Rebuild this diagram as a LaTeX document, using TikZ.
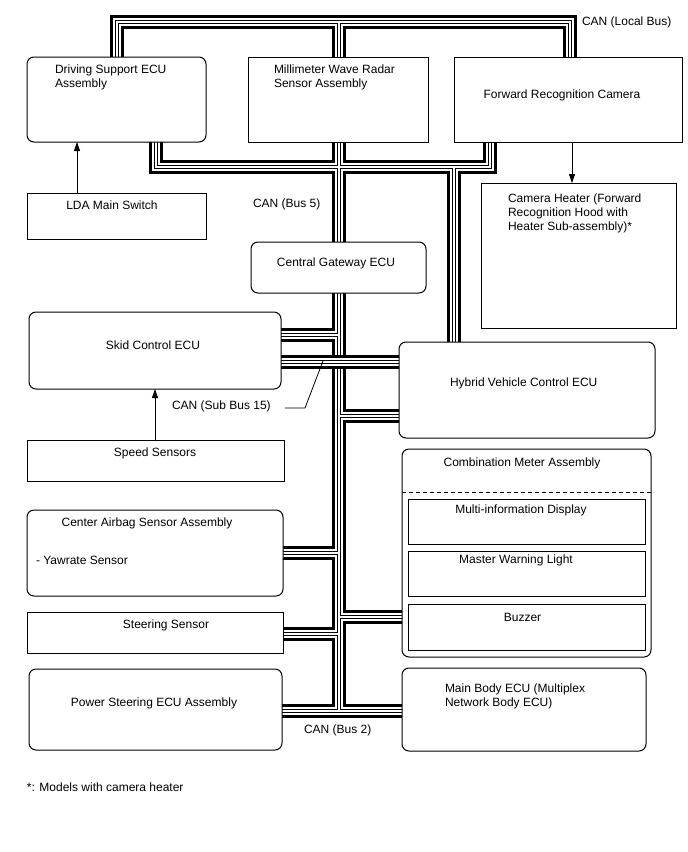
\documentclass[tikz,border=0pt]{standalone}
\usepackage{fontspec}
\setmainfont{Liberation Sans}
\usetikzlibrary{arrows.meta}
\pgfdeclarelayer{back}
\pgfdeclarelayer{bg}
\pgfsetlayers{back,bg,main}
\begin{document}
\begin{tikzpicture}[x=1pt,y=-1pt,
  every node/.style={inner sep=0pt, outer sep=0pt},
  txt/.style={font=\fontsize{12}{14}\selectfont},
  rbox/.style={draw, line width=1pt, fill=white, rounded corners=7pt, anchor=north west},
  sbox/.style={draw, line width=1pt, fill=white, anchor=north west},
  bus/.style={line width=14pt, draw=black,
    postaction={draw=white, line width=8pt},
    postaction={draw=black, line width=4pt},
    postaction={draw=white, line width=2pt}},
  arr/.style={line width=0.8pt, -{Triangle[length=9pt,width=6pt]}},
  thinline/.style={line width=0.8pt},
]
\useasboundingbox (0,0) rectangle (688,852);
\begin{pgfonlayer}{back}
\fill[white] (0,0) rectangle (688,852);
\end{pgfonlayer}

% boxes
\node[rbox, minimum width=179pt, minimum height=85pt] (ds) at (27,57) {};
\node[sbox, minimum width=180pt, minimum height=85pt] (mmw) at (248,57) {};
\node[sbox, minimum width=228pt, minimum height=85pt] (frc) at (454,57) {};
\node[sbox, minimum width=179pt, minimum height=46pt] (lda) at (27,193) {};
\node[sbox, minimum width=195pt, minimum height=145pt] (ch) at (481,183) {};
\node[rbox, minimum width=175pt, minimum height=51pt] (cgw) at (251,242) {};
\node[rbox, minimum width=252pt, minimum height=77pt] (skid) at (29,312) {};
\node[sbox, minimum width=257pt, minimum height=41pt] (speed) at (27,440) {};
\node[rbox, minimum width=256pt, minimum height=96pt] (hv) at (399,342) {};
\node[rbox, minimum width=256pt, minimum height=86pt] (air) at (27,510) {};
\node[sbox, minimum width=256pt, minimum height=41pt] (steer) at (27,612) {};
\node[rbox, minimum width=253pt, minimum height=81pt] (ps) at (29,669) {};
\node[rbox, minimum width=249pt, minimum height=208pt] (combo) at (402,449) {};
\node[sbox, minimum width=237pt, minimum height=45pt] (mid) at (408,499) {};
\node[sbox, minimum width=237pt, minimum height=45pt] (mwl) at (408,551) {};
\node[sbox, minimum width=237pt, minimum height=46pt] (buz) at (408,604) {};
\node[rbox, minimum width=244pt, minimum height=83pt] (mb) at (402,668) {};

% bus junction coordinates
\coordinate (lbL) at (116.5,22);
\coordinate (lbM) at (339,22);
\coordinate (lbR) at (570,22);
\coordinate (b5L) at (156,167);
\coordinate (b5R) at (490,167);
\coordinate (b5H) at (454,167);
\coordinate (tTop) at (339,142);
\coordinate (tBot) at (339,711);
\coordinate (jSkid) at (339,335);
\coordinate (j15) at (339,362);
\coordinate (jHv) at (339,416);
\coordinate (jAir) at (339,553);
\coordinate (jCombo) at (339,617);
\coordinate (jSteer) at (339,634);

\begin{pgfonlayer}{bg}
% CAN (Local Bus)
\draw[bus] (ds.north -| lbL) -- (lbL) -- (lbR) -- (lbR |- frc.north)
           (lbM) -- (lbM |- mmw.north);
% CAN (Bus 5) and trunk
\draw[bus] (b5L |- ds.south) -- (b5L) -- (b5R) -- (b5R |- frc.south)
           (b5H) -- (b5H |- hv.north)
           (tTop) -- (tBot)
           (ps.east |- tBot) -- (mb.west |- tBot)
           (skid.east |- jSkid) -- (jSkid)
           (jHv) -- (hv.west |- jHv)
           (air.east |- jAir) -- (jAir)
           (jCombo) -- (combo.west |- jCombo)
           (steer.east |- jSteer) -- (jSteer);
% CAN (Sub Bus 15)
\draw[bus] (skid.east |- j15) -- (hv.west |- j15);
\end{pgfonlayer}

% redraw boxes on top (already on main layer)
\coordinate (dashY) at (0,492);
\draw[line width=1pt, dash pattern=on 4pt off 3pt] (combo.west |- dashY) -- (combo.east |- dashY);

% arrows
\coordinate (aL) at (77,0);
\coordinate (aS) at (155,0);
\coordinate (aF) at (572,0);
\draw[arr] (lda.north -| aL) -- (ds.south -| aL);
\draw[arr] (speed.north -| aS) -- (skid.south -| aS);
\draw[arr] (frc.south -| aF) -- (ch.north -| aF);

% texts
\node[txt, anchor=base west] (dsT1) at (55,73) {Driving Support ECU};
\node[txt, anchor=base west] (dsT2) at (55,87) {Assembly};
\node[txt, anchor=base west] (mmwT1) at (274,73) {Millimeter Wave Radar};
\node[txt, anchor=base west] (mmwT2) at (274,87) {Sensor Assembly};
\node[txt, anchor=base] (frcT) at (562,98.5) {Forward Recognition Camera};
\node[txt, anchor=base west] (localT) at (582,25) {CAN (Local Bus)};
\node[txt, anchor=base] (ldaT) at (112,209) {LDA Main Switch};
\node[txt, anchor=base west] (bus5T) at (253,207) {CAN (Bus 5)};
\node[txt, anchor=base] (cgwT) at (336,266) {Central Gateway ECU};
\node[txt, anchor=base west] (chT1) at (508,202) {Camera Heater (Forward};
\node[txt, anchor=base west] (chT2) at (508,216) {Recognition Hood with};
\node[txt, anchor=base west] (chT3) at (508,230) {Heater Sub-assembly)*};
\node[txt, anchor=base] (skidT) at (153,349) {Skid Control ECU};
\node[txt, anchor=base west] (hvT) at (450,386) {Hybrid Vehicle Control ECU};
\node[txt, anchor=base west] (sub15T) at (172,409) {CAN (Sub Bus 15)};
\node[txt, anchor=base] (speedT) at (155,456) {Speed Sensors};
\node[txt, anchor=base] (airT) at (147,526) {Center Airbag Sensor Assembly};
\node[txt, anchor=base west] (yawT) at (36,564) {- Yawrate Sensor};
\node[txt, anchor=base] (steerT) at (166,628) {Steering Sensor};
\node[txt, anchor=base] (psT) at (154,706) {Power Steering ECU Assembly};
\node[txt, anchor=base] (comboT) at (522,466) {Combination Meter Assembly};
\node[txt, anchor=base] (midT) at (521,513) {Multi-information Display};
\node[txt, anchor=base] (mwlT) at (516,563.5) {Master Warning Light};
\node[txt, anchor=base] (buzT) at (522.5,621) {Buzzer};
\node[txt, anchor=base west] (mbT1) at (445,692) {Main Body ECU (Multiplex};
\node[txt, anchor=base west] (mbT2) at (445,706) {Network Body ECU)};
\node[txt, anchor=base west] (bus2T) at (304,733) {CAN (Bus 2)};
\node[txt, anchor=base west] (noteT) at (27,791) {*: Models with camera heater};

% leader for CAN (Sub Bus 15)
\coordinate (ld1) at (285,408);
\coordinate (ld2) at (305,408);
\coordinate (ld3) at (323,361);
\draw[thinline] (ld1) -- (ld2) -- (ld3);
\end{tikzpicture}
\end{document}
